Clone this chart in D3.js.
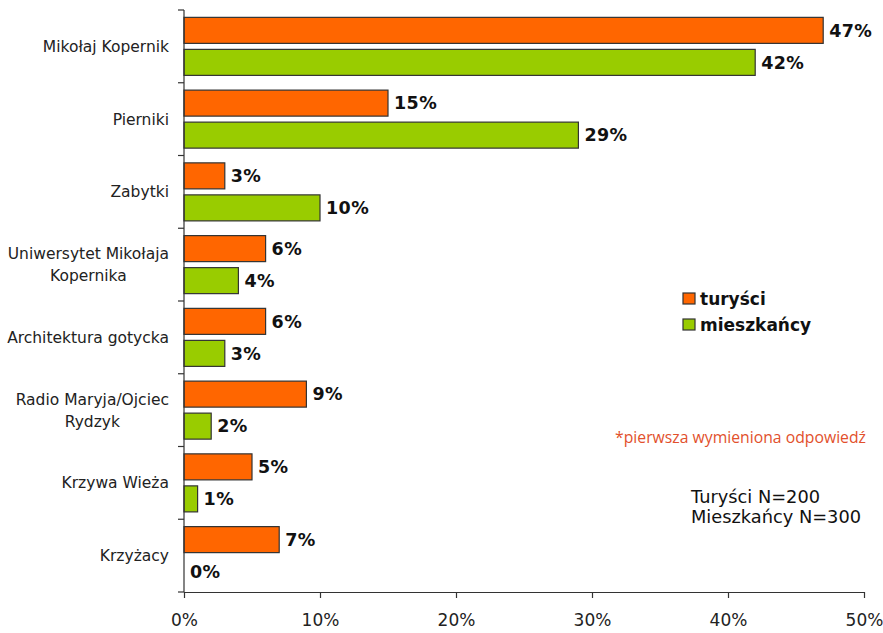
<!DOCTYPE html>
<html>
<head>
<meta charset="utf-8">
<script src="https://cdn.jsdelivr.net/npm/d3@7"></script>
<style>
  html, body { margin: 0; padding: 0; background: #fff; }
  svg { display: block; }
  text { font-family: "DejaVu Sans", Verdana, sans-serif; }
  text.note { font-family: "Open Sans", "DejaVu Sans Condensed", sans-serif; }
</style>
</head>
<body>
<svg id="chart" width="883" height="633"></svg>
<script>
// Categories (top to bottom); "\n" marks a manual line break in the label
const categories = [
  "Mikołaj Kopernik",
  "Pierniki",
  "Zabytki",
  "Uniwersytet Mikołaja\nKopernika",
  "Architektura gotycka",
  "Radio Maryja/Ojciec\nRydzyk",
  "Krzywa Wieża",
  "Krzyżacy"
];
const seriesNames = ["turyści", "mieszkańcy"];
const turysci    = [47, 15, 3, 6, 6, 9, 5, 7];
const mieszkancy = [42, 29, 10, 4, 3, 2, 1, 0];
const xTicks = [0, 10, 20, 30, 40, 50];
const colors = ["#FF6600", "#99CC00"];
const footnote = "*pierwsza wymieniona odpowiedź";
const sampleNotes = ["Turyści N=200", "Mieszkańcy N=300"];

const rows = categories.map((c, i) => ({ cat: c, values: [turysci[i], mieszkancy[i]] }));

const svg = d3.select("#chart");
const plotLeft = 184, plotRight = 864, plotTop = 10, plotBottom = 592;

const x = d3.scaleLinear().domain([0, 50]).range([plotLeft, plotRight]);
const y = d3.scaleBand().domain(categories).range([plotTop, plotBottom]).paddingInner(0).paddingOuter(0);
const ySub = d3.scaleBand().domain(seriesNames).range([0, y.bandwidth()])
  .paddingInner(0.1875).paddingOuter(0.23);

// bars
const groups = svg.append("g").selectAll("g").data(rows).join("g")
  .attr("transform", d => `translate(0,${y(d.cat)})`);

groups.selectAll("rect").data(d => d.values.map((v, k) => ({ v, k })).filter(d => d.v > 0))
  .join("rect")
  .attr("x", x(0))
  .attr("y", d => ySub(seriesNames[d.k]))
  .attr("width", d => x(d.v) - x(0))
  .attr("height", ySub.bandwidth())
  .attr("fill", d => colors[d.k])
  .attr("stroke", "#333")
  .attr("stroke-width", 1.2);

groups.selectAll("text.val").data(d => d.values.map((v, k) => ({ v, k })))
  .join("text")
  .attr("class", "val")
  .attr("x", d => x(d.v) + 6)
  .attr("y", d => ySub(seriesNames[d.k]) + ySub.bandwidth() / 2)
  .attr("dy", "0.36em")
  .attr("font-size", 17.5)
  .attr("font-weight", "bold")
  .attr("letter-spacing", 0.4)
  .attr("fill", "#111")
  .text(d => d.v + "%");

// y axis: line with ticks at the category boundaries
const yAxis = svg.append("g");
yAxis.append("line")
  .attr("x1", plotLeft).attr("x2", plotLeft).attr("y1", plotTop).attr("y2", plotBottom)
  .attr("stroke", "#333").attr("stroke-width", 1.2);
const bounds = categories.map(c => y(c)).concat([y.range()[1]]);
yAxis.selectAll("line.tk").data(bounds).join("line")
  .attr("class", "tk")
  .attr("x1", plotLeft - 6).attr("x2", plotLeft)
  .attr("y1", d => d).attr("y2", d => d)
  .attr("stroke", "#333").attr("stroke-width", 1.2);

// category labels: single lines right-aligned, wrapped labels centred as a block
const labelRight = 169;
const lineH = 22;
categories.forEach(c => {
  const lines = c.split("\n");
  const cy = y(c) + y.bandwidth() / 2;
  const t = svg.append("text")
    .attr("font-size", 15.5)
    .attr("fill", "#222");
  lines.forEach((ln, i) => {
    t.append("tspan").text(ln)
      .attr("y", cy + (i - (lines.length - 1) / 2) * lineH)
      .attr("dy", "0.36em");
  });
  const widths = t.selectAll("tspan").nodes().map(n => n.getComputedTextLength());
  const w = d3.max(widths);
  if (lines.length === 1) {
    t.attr("text-anchor", "end").selectAll("tspan").attr("x", labelRight);
  } else {
    t.attr("text-anchor", "middle").selectAll("tspan").attr("x", labelRight - w / 2);
  }
});

// x axis
const xAxis = d3.axisBottom(x).tickValues(xTicks).tickFormat(d => d + "%")
  .tickSizeInner(6).tickSizeOuter(0).tickPadding(16);
const gx = svg.append("g").attr("transform", `translate(0,${plotBottom})`).call(xAxis);
gx.select(".domain").attr("stroke", "#333").attr("stroke-width", 1.2);
gx.selectAll(".tick line").attr("stroke", "#333").attr("stroke-width", 1.2);
gx.selectAll(".tick text").attr("font-size", 17).attr("fill", "#222");

// legend
const legend = svg.append("g").attr("transform", "translate(683,293)");
seriesNames.forEach((s, i) => {
  const g = legend.append("g").attr("transform", `translate(0,${i * 26})`);
  g.append("rect").attr("width", 12).attr("height", 11)
    .attr("fill", colors[i]).attr("stroke", "#333").attr("stroke-width", 1.2);
  g.append("text").attr("x", 17).attr("y", 5.5).attr("dy", "0.36em")
    .attr("font-size", 17).attr("font-weight", "bold").attr("fill", "#111")
    .text(s);
});

// footnote, fitted to its span right of the plot
svg.append("text")
  .attr("class", "note")
  .attr("x", 615).attr("y", 437).attr("dy", "0.36em")
  .attr("font-size", 15.5).attr("fill", "#E2502C")
  .attr("textLength", 251).attr("lengthAdjust", "spacingAndGlyphs")
  .text(footnote);

// sample sizes
svg.append("g").selectAll("text").data(sampleNotes).join("text")
  .attr("x", 691).attr("y", (d, i) => 503 + i * 20)
  .attr("font-size", 17.8).attr("fill", "#111")
  .text(d => d);
</script>
</body>
</html>
